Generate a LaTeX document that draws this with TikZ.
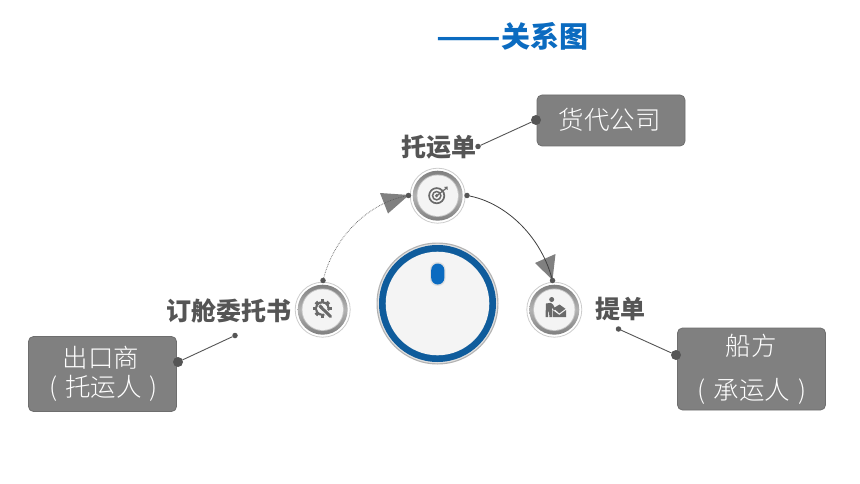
\documentclass[tikz,border=0pt]{standalone}
\usepackage{graphicx}
\usepackage{fontspec}
\setmainfont{Noto Sans CJK SC}
\newfontfamily\lightcjk{Noto Sans CJK SC Light}
\usetikzlibrary{arrows.meta}
\definecolor{boxfill}{HTML}{808080}
\definecolor{boxline}{HTML}{6E6E6E}
\definecolor{dotc}{HTML}{555555}
\definecolor{labelc}{HTML}{555555}
\definecolor{titleblue}{HTML}{0B6BC0}
\definecolor{ringblue}{HTML}{0F5C9C}
\definecolor{pale}{HTML}{F4F4F4}
\definecolor{icon}{HTML}{6A6A6A}
\tikzset{
  every node/.style={inner sep=0pt,outer sep=0pt},
  boxnode/.style={draw=boxline,line width=0.8pt,fill=boxfill,rounded corners=5pt,text=white,align=center},
  boxtext/.style={text=white,font=\fontsize{25.5}{30}\lightcjk},
  lab/.style={text=labelc,font=\fontsize{25}{30}\selectfont\bfseries},
  bigdot/.style={circle,fill=dotc,minimum size=10pt},
  smalldot/.style={circle,fill=dotc,minimum size=5.5pt},
  lead/.style={draw=dotc,line width=0.9pt},
  head/.style={fill=boxfill,draw=none},
}
\newcommand{\medal}[2]{%
  \fill[white,draw=black!20,line width=0.8pt] (#1,#2) circle (27.5);
  \shade[top color=black!50,bottom color=black!50,middle color=black!30] (#1,#2) circle (25);
  \fill[black!22] (#1,#2) circle (21.2);
  \fill[pale] (#1,#2) circle (20.3);
}
\begin{document}
\begin{tikzpicture}[x=1pt,y=-1pt]
\useasboundingbox (0,0) rectangle (860,484);
\fill[white] (0,0) rectangle (860,484);

% title
\node[text=titleblue,font=\fontsize{29}{32}\selectfont\bfseries,anchor=center] (title) at (512.5,36) {\scalebox{1.3}[1]{——}关系图};

% central dial
\fill[black!30] (437.5,303.5) circle (61);
\fill[black!12] (437.5,303.5) circle (59.8);
\fill[ringblue] (437.5,303.5) circle (58.5);
\fill[pale] (437.5,303.5) circle (51.8);
\fill[black!12,rounded corners=7.5pt] (430,262) rectangle (445.5,286);
\fill[titleblue,rounded corners=6.5pt] (431.2,263.5) rectangle (444.3,284.5);

% medals
\medal{437.7}{195.7}
\medal{322.7}{309.7}
\medal{554.3}{309.7}

% target icon
\draw[icon,line width=1.7pt] (436.7,195.7) circle (7.6);
\draw[icon,line width=1.5pt] (436.7,195.7) circle (4.2);
\fill[icon] (436.7,195.7) circle (1.8);
\draw[icon,line width=1.2pt] (436.7,195.7) -- (446,188.5);
\fill[icon] (444,187) -- (447.5,186.5) -- (447.5,190) -- cycle;

% gear and wrench icon
\foreach \a in {0,45,...,315}
  \fill[icon,rotate around={\a:(322.3,308.5)}] (320.5,299.3) rectangle (324.1,303.5);
\draw[icon,line width=2.2pt] (322.3,308.5) circle (6.2);
\fill[pale] (322.3,308.5) circle (5.1);
\draw[pale,line width=5.4pt] (322.5,308.7) -- (332.5,318.5);
\draw[icon,line width=3pt,line cap=round] (320.5,306.7) -- (330.5,316.5);
\fill[icon] (322.3,308.5) ++(-3.8,-2) -- ++(2,-2.2) -- ++(2.5,2.5) -- ++(-2.2,2.2) -- cycle;

% worker and envelope icon
\fill[icon] (551.7,299.5) circle (2.5);
\fill[icon] (546,303.5) -- (551,302.8) -- (553.3,305) -- (555.5,309.5) -- (554,310.3) -- (551.8,307.5) -- (551.8,317.2) -- (549.4,317.2) -- (549,311.5) -- (548.3,311.5) -- (548,317.2) -- (545.5,317.2) -- cycle;
\fill[icon] (553.5,308.2) -- (559.5,304.5) -- (565.5,308.8) -- (559.3,313.3) -- cycle;
\fill[icon] (552.5,310) -- (559.3,315) -- (566,310) -- (566,317.2) -- (552.5,317.2) -- cycle;

% boxes
\node[boxnode,minimum width=148pt,minimum height=51pt] (forwarder) at (611,120.5) {};
\node[boxtext] (fwd) at (609.5,120) {货代公司};
\node[boxnode,minimum width=148pt,minimum height=75pt] (exporter) at (102.5,374) {};
\node[boxtext] (exp1) at (101,358) {出口商};
\node[boxtext] (exp2) at (103.5,388) {(\hspace{8pt}托运人\hspace{8pt})};
\node[boxnode,minimum width=148pt,minimum height=82pt] (carrier) at (751.5,369) {};
\node[boxtext] (car1) at (751,346) {船方};
\node[boxtext] (car2) at (752,391) {(\hspace{8pt}承运人\hspace{8pt})};

% labels
\node[lab] (l1) at (438.5,147) {托运单};
\node[lab] (l2) at (228.5,311) {订舱委托书};
\node[lab] (l3) at (620,309) {提单};

% leader lines
\node[bigdot] (d1) at (536,120) {};
\node[smalldot] (e1) at (478,146.5) {};
\draw[lead] (d1) -- (e1);
\node[bigdot] (d2) at (178,362) {};
\node[smalldot] (e2) at (235,335.5) {};
\draw[lead] (d2) -- (e2);
\node[bigdot] (d3) at (676,355) {};
\node[smalldot] (e3) at (618.5,329) {};
\draw[lead] (d3) -- (e3);

% arrowheads
\fill[head] (380,193) -- (409,195) -- (388,213.5) -- cycle;
\fill[head] (535,263) -- (555.5,254) -- (552.5,280) -- cycle;

% arcs
\node[smalldot] (a1) at (323,280.5) {};
\node[smalldot] (a2) at (408.5,195.5) {};
\node[smalldot] (a3) at (467,195.5) {};
\node[smalldot] (a4) at (552.5,280.5) {};
\draw[black!65,line width=0.7pt,densely dotted] (a1) .. controls (335,235) and (370,203) .. (a2);
\draw[black!75,line width=0.8pt] (a3) .. controls (505,203) and (540,235) .. (a4);
\end{tikzpicture}
\end{document}
